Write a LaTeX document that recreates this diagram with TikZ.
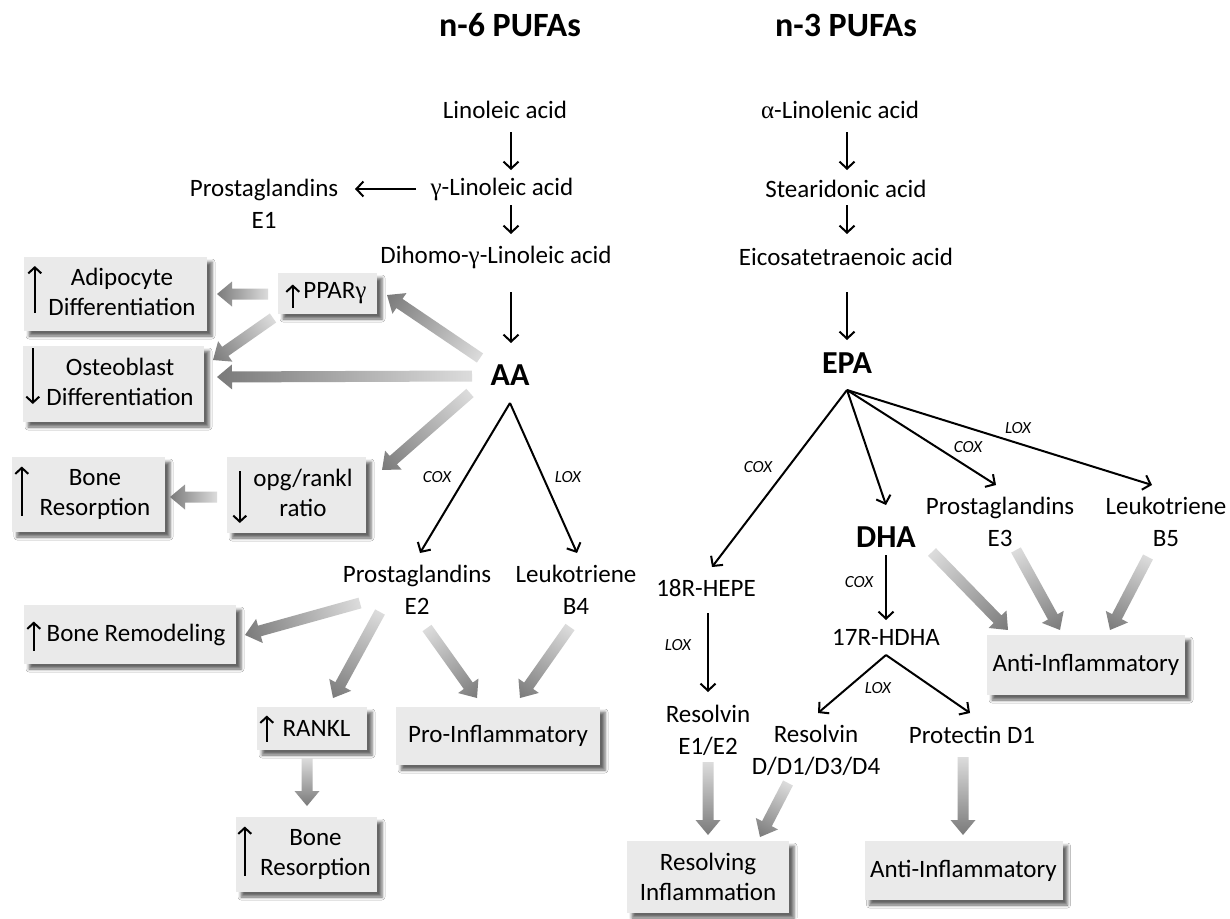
\documentclass[tikz,border=0pt]{standalone}
\usepackage{fontspec}
\setmainfont{Carlito}
\newfontfamily\greekfont{Liberation Serif}
\usetikzlibrary{arrows.meta,shadows.blur}
\definecolor{boxfill}{HTML}{EAEAEA}
\definecolor{gstart}{HTML}{DCDCDC}
\definecolor{gend}{HTML}{7A7A7A}
\newdimen\gaxa \newdimen\gaya \newdimen\gaxb \newdimen\gayb
\newcommand\grayarrow[2]{%
  \path (#1) coordinate (ga-s) (#2) coordinate (ga-e);%
  \pgfextractx{\gaxa}{\pgfpointanchor{ga-s}{center}}%
  \pgfextracty{\gaya}{\pgfpointanchor{ga-s}{center}}%
  \pgfextractx{\gaxb}{\pgfpointanchor{ga-e}{center}}%
  \pgfextracty{\gayb}{\pgfpointanchor{ga-e}{center}}%
  \pgfmathsetmacro\gaang{atan2(\gayb-\gaya,\gaxb-\gaxa)}%
  \pgfmathsetlengthmacro\galen{veclen(\gaxb-\gaxa,\gayb-\gaya)}%
  \begin{scope}[transform canvas={shift={(\the\gaxa,\the\gaya)},rotate=\gaang}]
    \shade[left color=gstart,right color=gend]
      (0pt,-5.5pt) -- ({\galen-15pt},-5.5pt) -- ({\galen-15pt},-12.5pt) -- (\galen,0pt)
      -- ({\galen-15pt},12.5pt) -- ({\galen-15pt},5.5pt) -- (0pt,5.5pt) -- cycle;
  \end{scope}}
\begin{document}
\begin{tikzpicture}[x=1pt,y=-1pt,
  txt/.style={font=\fontsize{25}{32}\selectfont, align=center, inner sep=1pt},
  bigtxt/.style={font=\fontsize{32}{36}\selectfont\bfseries, inner sep=1pt},
  ttl/.style={font=\fontsize{34}{38}\selectfont\bfseries, inner sep=1pt},
  enz/.style={font=\fontsize{17}{20}\selectfont\itshape, inner sep=1pt},
  gbox/.style={fill=boxfill, inner xsep=3pt, inner ysep=0pt, font=\fontsize{25}{30}\selectfont, align=center,
    blur shadow={shadow xshift=5pt, shadow yshift=-5pt, shadow blur radius=3pt, shadow opacity=60}},
  conn/.style={line width=2pt, -{Straight Barb[length=7pt,width=15pt]}},
  boxarr/.style={line width=2pt, -{Straight Barb[length=6pt,width=13pt]}}]
\useasboundingbox[fill=white] (0,0) rectangle (1230,918);

% titles
\node[ttl] (t6) at (510,25) {n-6 PUFAs};
\node[ttl] (t3) at (846,25) {n-3 PUFAs};

% n-6 chain
\node[txt] (lin) at (505,110) {Linoleic acid};
\node[txt] (glin) at (502,189) {{\greekfont γ}-Linoleic acid};
\node[txt] (pge1) at (264,204) {Prostaglandins\\E1};
\node[txt] (dglin) at (496,257) {Dihomo-{\greekfont γ}-Linoleic acid};
\node[bigtxt] (aa) at (510,375) {AA};
\node[txt] (pge2) at (417,590) {Prostaglandins\\E2};
\node[txt] (ltb4) at (576,590) {Leukotriene\\B4};
\node[enz] (cox1) at (437,477) {COX};
\node[enz] (lox1) at (568,477) {LOX};

\draw[conn] ([shift={(6,22)}]lin.center) -- ([shift={(9,-19)}]glin.center);
\draw[conn] ([shift={(9,16)}]glin.center) -- ([shift={(15,-23)}]dglin.center);
\draw[conn] ([shift={(-86,0)}]glin.center) -- ([shift={(91,-15)}]pge1.center);
\draw[conn] ([shift={(15,35)}]dglin.center) -- ([shift={(1,-32)}]aa.center);
\draw[conn] ([shift={(0,28)}]aa.center) -- ([shift={(3,-37)}]pge2.center);
\draw[conn] ([shift={(0,28)}]aa.center) -- ([shift={(1,-37)}]ltb4.center);

% n-6 boxes
\node[gbox, minimum width=183pt, minimum height=74pt] (adip) at (115.5,294)
  {\hspace*{13pt}\begin{tabular}{@{}c@{}}Adipocyte\\Differentiation\end{tabular}};
\node[gbox, minimum width=99pt, minimum height=41pt] (ppar) at (327.5,293.5)
  {\hspace*{15pt}PPAR{\greekfont γ}};
\node[gbox, minimum width=181pt, minimum height=76pt] (osteo) at (113.5,384)
  {\hspace*{13pt}\begin{tabular}{@{}c@{}}Osteoblast\\Differentiation\end{tabular}};
\node[gbox, minimum width=153pt, minimum height=75pt] (bres1) at (88.5,494.5)
  {\hspace*{13pt}\begin{tabular}{@{}c@{}}Bone\\Resorption\end{tabular}};
\node[gbox, minimum width=139pt, minimum height=76pt] (opg) at (296.5,495)
  {\hspace*{13pt}\begin{tabular}{@{}c@{}}opg/rankl\\ratio\end{tabular}};
\node[gbox, minimum width=212pt, minimum height=59pt] (bremod) at (130,634.5)
  {\hspace*{12pt}Bone Remodeling};
\node[gbox, minimum width=110pt, minimum height=43pt] (rankl) at (312,728.5)
  {\hspace*{9pt}RANKL};
\node[gbox, minimum width=204pt, minimum height=58pt] (proinf) at (498,736)
  {Pro-Inflammatory};
\node[gbox, minimum width=141pt, minimum height=75pt] (bres2) at (306.5,854.5)
  {\hspace*{18pt}\begin{tabular}{@{}c@{}}Bone\\Resorption\end{tabular}};

% arrows inside boxes
\draw[boxarr] ([shift={(11,19)}]adip.west) -- ([shift={(11,-28)}]adip.west);
\draw[boxarr] ([shift={(15,14)}]ppar.west) -- ([shift={(15,-9)}]ppar.west);
\draw[boxarr] ([shift={(10,-36)}]osteo.west) -- ([shift={(10,20)}]osteo.west);
\draw[boxarr] ([shift={(10,21)}]bres1.west) -- ([shift={(10,-28)}]bres1.west);
\draw[boxarr] ([shift={(13,-24)}]opg.west) -- ([shift={(13,28)}]opg.west);
\draw[boxarr] ([shift={(10,16)}]bremod.west) -- ([shift={(10,-13)}]bremod.west);
\draw[boxarr] ([shift={(10,13)}]rankl.west) -- ([shift={(10,-13)}]rankl.west);
\draw[boxarr] ([shift={(9,21)}]bres2.west) -- ([shift={(9,-28)}]bres2.west);

% gray arrows n-6
\grayarrow{[shift={(-59.5,0.5)}]ppar.center}{[shift={(101.5,0)}]adip.center}
\grayarrow{[shift={(-54.5,24.5)}]ppar.center}{[shift={(99.5,-24)}]osteo.center}
\grayarrow{[shift={(-30,-17)}]aa.center}{[shift={(59.5,1.5)}]ppar.center}
\grayarrow{[shift={(-38,1)}]aa.center}{[shift={(103.5,-7)}]osteo.center}
\grayarrow{[shift={(-40,18)}]aa.center}{[shift={(85.5,-25)}]opg.center}
\grayarrow{[shift={(-79.5,2)}]opg.center}{[shift={(81.5,2.5)}]bres1.center}
\grayarrow{[shift={(-57,13)}]pge2.center}{[shift={(115,0.5)}]bremod.center}
\grayarrow{[shift={(-37,22)}]pge2.center}{[shift={(21,-30.5)}]rankl.center}
\grayarrow{[shift={(10,38)}]pge2.center}{[shift={(-21,-38)}]proinf.center}
\grayarrow{[shift={(-6,37)}]ltb4.center}{[shift={(22,-38)}]proinf.center}
\grayarrow{[shift={(-5,29.5)}]rankl.center}{[shift={(0.5,-48.5)}]bres2.center}

% n-3 chain
\node[txt] (alin) at (840,110) {{\greekfont α}-Linolenic acid};
\node[txt] (stear) at (846,189) {Stearidonic acid};
\node[txt] (eico) at (846,257) {Eicosatetraenoic acid};
\node[bigtxt] (epa) at (847,363) {EPA};
\node[txt] (hepe) at (706,588) {18R-HEPE};
\node[bigtxt] (dha) at (886,537) {DHA};
\node[txt] (pge3) at (1000,522) {Prostaglandins\\E3};
\node[txt] (ltb5) at (1166,522) {Leukotriene\\B5};
\node[txt] (hdha) at (886,637) {17R-HDHA};
\node[txt] (rese) at (708,730) {Resolvin\\E1/E2};
\node[txt] (resd) at (816,750) {Resolvin\\D/D1/D3/D4};
\node[txt] (prot) at (972,735) {Protectin D1};
\node[enz] (cox2) at (758,467) {COX};
\node[enz] (cox3) at (968,447) {COX};
\node[enz] (lox2) at (1018,428) {LOX};
\node[enz] (cox4) at (859,582) {COX};
\node[enz] (lox3) at (878,688) {LOX};
\node[enz] (lox4) at (678,645) {LOX};

\draw[conn] ([shift={(7,22)}]alin.center) -- ([shift={(1,-19)}]stear.center);
\draw[conn] ([shift={(1,16)}]stear.center) -- ([shift={(1,-23)}]eico.center);
\draw[conn] ([shift={(1,35)}]eico.center) -- ([shift={(0,-23)}]epa.center);
\draw[conn] ([shift={(0,27)}]epa.center) -- ([shift={(6,-21)}]hepe.center);
\draw[conn] ([shift={(0,27)}]epa.center) -- ([shift={(0,-32)}]dha.center);
\draw[conn] ([shift={(0,27)}]epa.center) -- ([shift={(-4,-37)}]pge3.center);
\draw[conn] ([shift={(0,27)}]epa.center) -- ([shift={(-14,-37)}]ltb5.center);
\draw[conn] ([shift={(2,25)}]hepe.center) -- ([shift={(0,-38)}]rese.center);
\draw[conn] ([shift={(0,18)}]dha.center) -- ([shift={(0,-17)}]hdha.center);
\draw[conn] ([shift={(0,18)}]hdha.center) -- ([shift={(2,-37)}]resd.center);
\draw[conn] ([shift={(0,18)}]hdha.center) -- ([shift={(-2,-22)}]prot.center);

% n-3 boxes
\node[gbox, minimum width=198pt, minimum height=60pt] (antiup) at (1086,665) {Anti-Inflammatory};
\node[gbox, minimum width=162pt, minimum height=72pt] (resolv) at (708,877) {Resolving\\Inflammation};
\node[gbox, minimum width=198pt, minimum height=59pt] (antilow) at (963.5,870.5) {Anti-Inflammatory};

% gray arrows n-3
\grayarrow{[shift={(46,15)}]dha.center}{[shift={(-78,-35)}]antiup.center}
\grayarrow{[shift={(16,28)}]pge3.center}{[shift={(-26,-35)}]antiup.center}
\grayarrow{[shift={(-18,35)}]ltb5.center}{[shift={(24,-35)}]antiup.center}
\grayarrow{[shift={(0,32)}]rese.center}{[shift={(0,-42)}]resolv.center}
\grayarrow{[shift={(-28,33)}]resd.center}{[shift={(52,-40)}]resolv.center}
\grayarrow{[shift={(-9,22)}]prot.center}{[shift={(-0.5,-35.5)}]antilow.center}
\end{tikzpicture}
\end{document}
